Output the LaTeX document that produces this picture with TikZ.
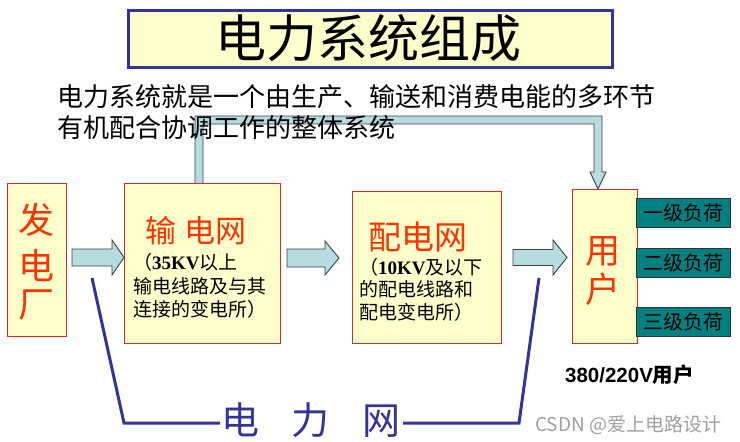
\documentclass[tikz,border=0pt]{standalone}
\usepackage{fontspec}
\setmainfont{Noto Sans CJK SC}
\newfontfamily\tnr{Liberation Serif}
\newfontfamily\arial{Liberation Sans}
\newcommand\myfs[1]{\fontsize{#1}{#1}\selectfont}
\definecolor{boxfill}{HTML}{FFFFCC}
\definecolor{boxred}{HTML}{E02828}
\definecolor{txtred}{HTML}{FF3300}
\definecolor{arrfill}{HTML}{B6DCE0}
\definecolor{navy}{HTML}{333399}
\definecolor{tealbox}{HTML}{008080}
\definecolor{wm}{HTML}{A0A0A0}
\tikzset{
  ybox/.style={draw=boxred, line width=1.2pt, fill=boxfill, inner sep=0pt, anchor=north west},
  loadbox/.style={draw=black!80, line width=1.2pt, fill=tealbox, inner sep=0pt, anchor=north west,
    minimum width=94, minimum height=29, font=\myfs{20}, text=black},
  blockarr/.style={draw=black!75, line width=0.9pt, fill=arrfill, line join=miter},
  bigred/.style={text=txtred, inner sep=0pt},
  subtxt/.style={anchor=west, inner sep=0pt, font=\myfs{19}},
  bracket/.style={draw=navy, line width=3pt, line join=miter}
}
\begin{document}
\begin{tikzpicture}[x=1pt,y=-1pt]
\useasboundingbox (0,0) rectangle (740,442);
\fill[white] (0,0) rectangle (740,442);

% title
\node[draw=navy, line width=3pt, fill=boxfill, inner sep=0pt, anchor=north west,
  minimum width=484, minimum height=57] (title) at (126.5,8.5) {};
\node[inner sep=0pt, font=\myfs{51}] (titletxt) at (368,38) {电力系统组成};

% feedback arrow (behind)
\draw[blockarr] (195,186) -- (195,116) -- (602,116) -- (602,172) -- (606,172) -- (598,189)
  -- (590,172) -- (594,172) -- (594,124) -- (203,124) -- (203,186) -- cycle;

% description
\node[anchor=west, inner sep=0pt, font=\myfs{26}] (desc1) at (57,97) {电力系统就是一个由生产、输送和消费电能的多环节};
\node[anchor=west, inner sep=0pt, font=\myfs{26}] (desc2) at (57,128) {有机配合协调工作的整体系统};

% boxes
\node[ybox, minimum width=59, minimum height=153] (fdc) at (7,183) {};
\node[ybox, minimum width=156, minimum height=160] (sdw) at (124,183) {};
\node[ybox, minimum width=149, minimum height=152] (pdw) at (352,191) {};
\node[ybox, minimum width=65, minimum height=154] (yh) at (572,189) {};

% 发电厂
\node[bigred, font=\myfs{36}] (f1) at (37,220) {发};
\node[bigred, font=\myfs{36}] (f2) at (37,266) {电};
\node[bigred, font=\myfs{36}] (f3) at (37,305) {厂};

% 输电网
\node[bigred, font=\myfs{31}] (sdwt) at (196,231) {输\hspace{9pt}电网};
\node[subtxt] (s1) at (133,262) {（{\tnr\bfseries 35KV}以上};
\node[subtxt] (s2) at (133,286) {输电线路及与其};
\node[subtxt] (s3) at (133,309) {连接的变电所）};

% 配电网
\node[bigred, font=\myfs{33}] (pdwt) at (418,237) {配电网};
\node[subtxt] (p1) at (359,267) {（{\tnr\bfseries 10KV}及以下};
\node[subtxt] (p2) at (359,289) {的配电线路和};
\node[subtxt] (p3) at (359,312) {配电变电所）};

% 用户
\node[bigred, font=\myfs{35}] (y1) at (603,252) {用};
\node[bigred, font=\myfs{35}] (y2) at (603,289) {户};

% load boxes
\node[loadbox] (l1) at (636,198) {一级负荷};
\node[loadbox] (l2) at (636,248) {二级负荷};
\node[loadbox] (l3) at (636,306.5) {三级负荷};

% block arrows
\draw[blockarr] (72,249) -- (112,249) -- (112,240) -- (124,257.5) -- (112,275) -- (112,266) -- (72,266) -- cycle;
\draw[blockarr] (287,249) -- (325,249) -- (325,241) -- (339,258) -- (325,275) -- (325,267) -- (287,267) -- cycle;
\draw[blockarr] (513,249.5) -- (553,249.5) -- (553,240) -- (567,257.5) -- (553,275) -- (553,265.5) -- (513,265.5) -- cycle;

% 380/220V
\node[anchor=west, inner sep=0pt, font={\myfs{20.5}\bfseries}] (v380) at (565,375) {{\arial 380/220V}用户};

% 电力网 bracket
\node[inner sep=0pt, text=navy, font=\myfs{38}] (dlw) at (311,420) {电\hspace{33pt}力\hspace{33pt}网};
\draw[bracket] (92,278) -- (124,423) -- (220,423);
\draw[bracket] (403,423) -- (519,423) -- (539,278);

% watermark
\node[anchor=west, inner sep=0pt, text=wm, font=\myfs{19}] (wmk) at (535,425) {CSDN @爱上电路设计};
\end{tikzpicture}
\end{document}
